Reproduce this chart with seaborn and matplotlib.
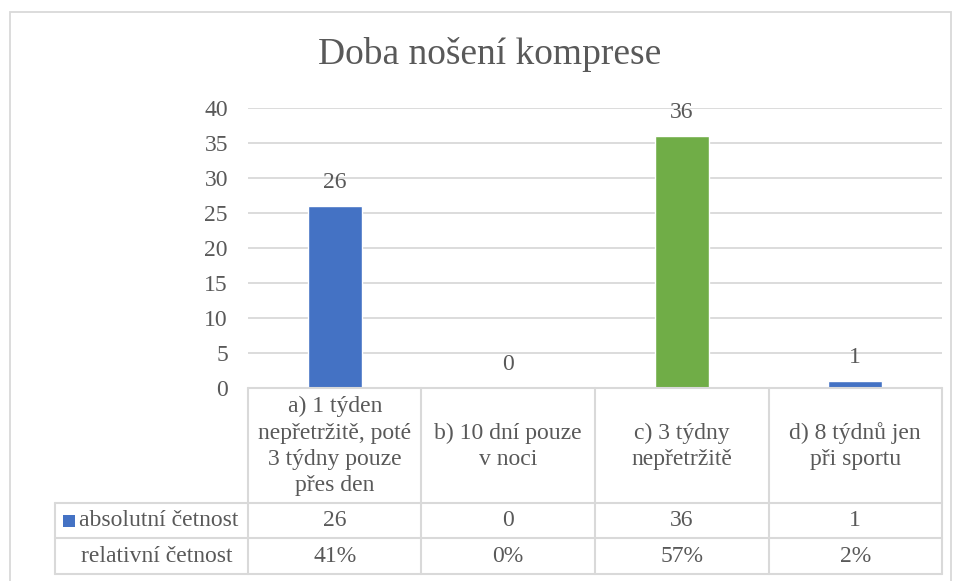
import matplotlib
matplotlib.use("Agg")
import matplotlib.pyplot as plt
import matplotlib.transforms as mtransforms
from matplotlib.patches import Rectangle
import pandas as pd
import seaborn as sns

categories = [
    "a) 1 týden\nnepřetržitě, poté\n3 týdny pouze\npřes den",
    "b) 10 dní pouze\nv noci",
    "c) 3 týdny\nnepřetržitě",
    "d) 8 týdnů jen\npři sportu",
]
absolute = [26, 0, 36, 1]
relative = ["41%", "0%", "57%", "2%"]
bar_colors = ["#4472C4", "#4472C4", "#70AD47", "#4472C4"]
row_labels = ["absolutní četnost", "relativní četnost"]
title = "Doba nošení komprese"

sns.set_theme(style="white")
plt.rcParams["font.family"] = ["Liberation Serif", "DejaVu Serif"]
txt = "#595959"
grid = "#d9d9d9"
fs = 17

df = pd.DataFrame({"cat": categories, "val": absolute})

fig = plt.figure(figsize=(9.54, 5.81), dpi=100)
W, H = 954, 581


def fx(px):
    return px / W


def fy(py):
    return 1 - py / H


ax = fig.add_axes([fx(248), fy(388), fx(942) - fx(248), fy(108) - fy(388)])
sns.barplot(data=df, x="cat", y="val", hue="cat", palette=bar_colors,
            width=0.31, legend=False, ax=ax, saturation=1)
ax.set_ylim(0, 40)
ax.set_xlim(-0.5, 3.5)
ax.set_yticks(range(0, 41, 5))
ax.tick_params(axis="y", length=0, pad=14.4, labelsize=fs, labelcolor=txt)
ax.set_xticks([])
ax.set_xlabel("")
ax.set_ylabel("")
for s in ax.spines.values():
    s.set_visible(False)
for v in range(5, 41, 5):
    ax.axhline(v, color=grid, lw=1.3, zorder=0)
ax.set_axisbelow(True)

for i, v in enumerate(absolute):
    ax.annotate(str(v), (i, v), xytext=(0, 17), textcoords="offset points",
                ha="center", va="center", fontsize=fs, color=txt)

# data table below the plot
trans = mtransforms.blended_transform_factory(ax.transData, fig.transFigure)
y_top, y_h, y_r1, y_r2 = fy(388), fy(503), fy(538), fy(574)
lw = 1.5
for b in [-0.5, 0.5, 1.5, 2.5, 3.5]:
    fig.add_artist(plt.Line2D([b, b], [y_top, y_r2], transform=trans,
                              color=grid, lw=lw))
fig.add_artist(plt.Line2D([fx(55), fx(55)], [y_h, y_r2], color=grid, lw=lw))
for yy in [y_h, y_r1, y_r2]:
    fig.add_artist(plt.Line2D([fx(55), fx(942)], [yy, yy], color=grid, lw=lw))
fig.add_artist(plt.Line2D([fx(248), fx(942)], [y_top, y_top], color=grid, lw=lw))

for i, c in enumerate(categories):
    fig.text(i, fy(446), c, transform=trans, ha="center",
             va="center", fontsize=fs, color=txt, linespacing=1.32)
    fig.text(i, (y_h + y_r1) / 2, str(absolute[i]), transform=trans,
             ha="center", va="center", fontsize=fs, color=txt)
    fig.text(i, (y_r1 + y_r2) / 2, relative[i], transform=trans,
             ha="center", va="center", fontsize=fs, color=txt)

fig.add_artist(Rectangle((fx(63), fy(527)), fx(12), fy(515) - fy(527),
                         transform=fig.transFigure, color=bar_colors[0], lw=0))
fig.text(fx(79), (y_h + y_r1) / 2, row_labels[0], ha="left", va="center",
         fontsize=fs, color=txt)
fig.text(fx(157), (y_r1 + y_r2) / 2, row_labels[1], ha="center", va="center",
         fontsize=fs, color=txt)

fig.text(fx(490), fy(55), title, ha="center", va="center", fontsize=27,
         color=txt)

# chart area border
fig.add_artist(Rectangle((fx(10), fy(590)), fx(951) - fx(10), fy(12) - fy(590),
                         transform=fig.transFigure, fill=False,
                         edgecolor=grid, lw=1.3))

fig.savefig("out.png", dpi=100)
